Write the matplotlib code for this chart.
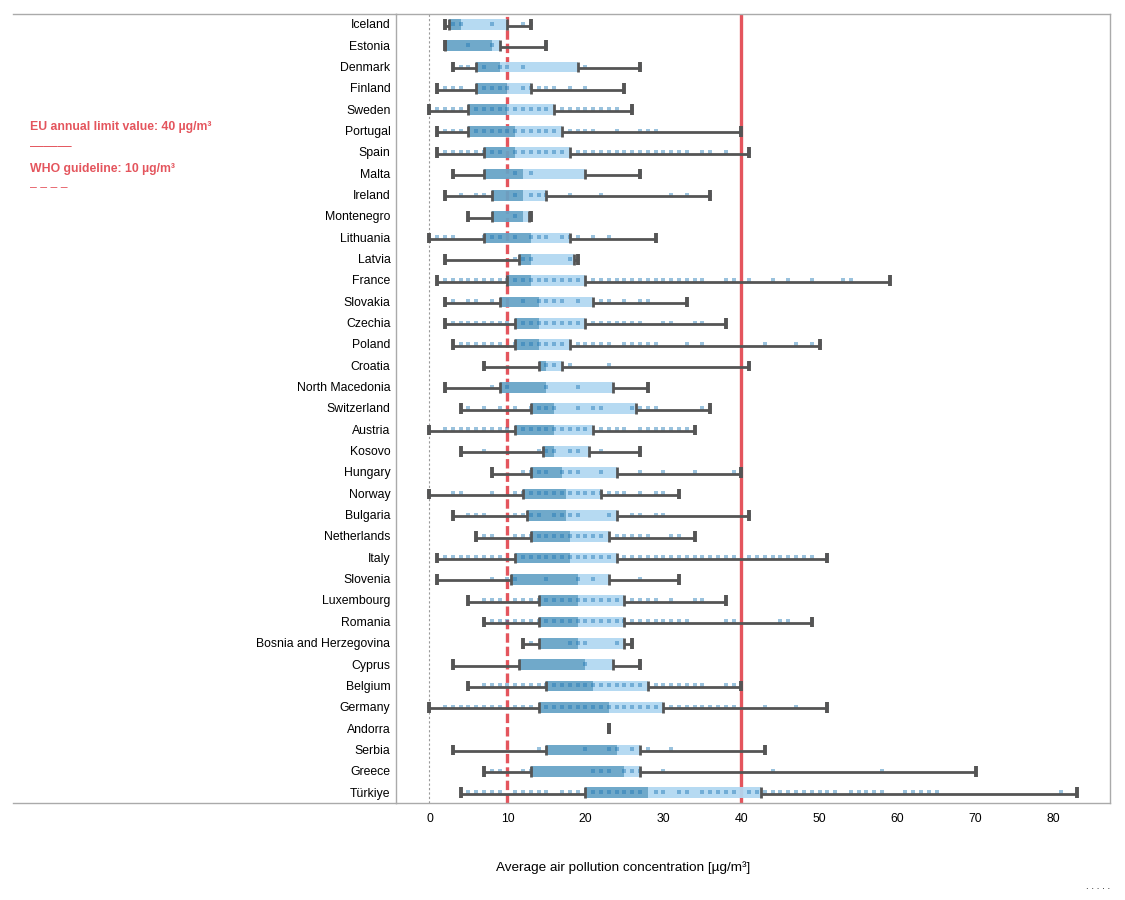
import matplotlib
matplotlib.use('Agg')
import matplotlib.pyplot as plt
from matplotlib.lines import Line2D
from matplotlib.transforms import ScaledTranslation

plt.rcParams['font.family'] = ['Liberation Sans', 'DejaVu Sans']

countries = ['Iceland', 'Estonia', 'Denmark', 'Finland', 'Sweden', 'Portugal', 'Spain', 'Malta', 'Ireland',
             'Montenegro', 'Lithuania', 'Latvia', 'France', 'Slovakia', 'Czechia', 'Poland', 'Croatia',
             'North Macedonia', 'Switzerland', 'Austria', 'Kosovo', 'Hungary', 'Norway', 'Bulgaria', 'Netherlands',
             'Italy', 'Slovenia', 'Luxembourg', 'Romania', 'Bosnia and Herzegovina', 'Cyprus', 'Belgium', 'Germany',
             'Andorra', 'Serbia', 'Greece', 'Türkiye']
low = [2, 2, 3, 1, 0, 1, 1, 3, 2, 5, 0, 2, 1, 2, 2, 3, 7, 2, 4, 0, 4, 8, 0, 3, 6, 1, 1, 5, 7, 12, 3, 5, 0, 23, 3, 7, 4]
q1 = [2.5, 2, 6, 6, 5, 5, 7, 7, 8, 8, 7, 11.5, 10, 9, 11, 11, 14, 9, 13, 11, 14.5, 13, 12, 12.5, 13, 11, 10.5, 14, 14,
      14, 11.5, 15, 14, 23, 15, 13, 20]
median = [4, 8, 9, 10, 10, 11, 11, 12, 12, 12, 13, 13, 13, 14, 14, 14, 15, 15, 16, 16, 16, 17, 17.5, 17.5, 18, 18, 19,
          19, 19, 19, 20, 21, 23, 23, 24, 25, 28]
q3 = [10, 9, 19, 13, 16, 17, 18, 20, 15, 12.8, 18, 18.5, 20, 21, 20, 18, 17, 23.5, 26.5, 21, 20.5, 24, 22, 24, 23, 24,
      23, 25, 25, 25, 23.5, 28, 30, 23, 27, 27, 42.5]
high = [13, 15, 27, 25, 26, 40, 41, 27, 36, 13, 29, 19, 59, 33, 38, 50, 41, 28, 36, 34, 27, 40, 32, 41, 34, 51, 32, 38,
        49, 26, 27, 40, 51, 23, 43, 70, 83]

stations = {
    'Iceland': [3, 4, 8, 12, 13],
    'Estonia': [5, 8, 15],
    'Denmark': [4, 5, 7, 9, 10, 12, 20, 27],
    'Finland': [2, 3, 4, 7, 8, 9, 10, 12, 13, 14, 15, 16, 18, 20],
    'Sweden': [0, 1, 2, 3, 4, 6, 7, 8, 9, 10, 11, 12, 13, 14, 15, 17, 18, 19, 20, 21, 22, 23, 24, 26],
    'Portugal': [2, 3, 4, 6, 7, 8, 9, 10, 11, 12, 13, 14, 15, 16, 18, 19, 20, 21, 24, 27, 28, 29],
    'Spain': [2, 3, 4, 5, 6, 7, 8, 9, 11, 12, 13, 14, 15, 16, 17, 19, 20, 21, 22, 23, 24, 25, 26, 27, 28, 29, 30, 31,
              32, 33, 35, 36, 38, 41],
    'Malta': [11, 13, 27],
    'Ireland': [4, 6, 7, 11, 13, 14, 15, 18, 22, 31, 33, 36],
    'Montenegro': [11, 13],
    'Lithuania': [0, 1, 2, 3, 7, 8, 9, 11, 13, 14, 15, 17, 18, 19, 21, 23],
    'Latvia': [11, 12, 13, 18, 19],
    'France': [2, 3, 4, 5, 6, 7, 8, 9, 10, 11, 12, 13, 14, 15, 16, 17, 18, 19, 21, 22, 23, 24, 25, 26, 27, 28, 29, 30,
               31, 32, 33, 34, 35, 38, 39, 41, 44, 46, 49, 53, 54],
    'Slovakia': [3, 5, 6, 8, 12, 14, 15, 16, 17, 19, 22, 23, 25, 27, 28],
    'Czechia': [3, 4, 5, 6, 7, 8, 9, 10, 12, 13, 14, 15, 16, 17, 18, 19, 21, 22, 23, 24, 25, 26, 27, 30, 31, 34, 35],
    'Poland': [4, 5, 6, 7, 8, 9, 11, 12, 13, 14, 15, 16, 17, 19, 20, 21, 22, 23, 25, 26, 27, 28, 29, 33, 35, 43, 47,
               49, 50],
    'Croatia': [15, 16, 18, 23, 41],
    'North Macedonia': [8, 10, 15, 19],
    'Switzerland': [5, 7, 9, 11, 13, 14, 15, 16, 19, 21, 22, 26, 27, 28, 29, 35, 36],
    'Austria': [0, 2, 3, 4, 5, 6, 7, 8, 9, 10, 12, 13, 14, 15, 16, 17, 18, 19, 20, 22, 23, 24, 25, 27, 28, 29, 30, 31,
                32, 33],
    'Kosovo': [7, 14, 15, 16, 18, 19, 22, 27],
    'Hungary': [12, 13, 14, 15, 17, 18, 19, 22, 27, 30, 34, 39],
    'Norway': [0, 3, 4, 8, 11, 12, 13, 14, 15, 16, 17, 18, 19, 20, 21, 22, 23, 24, 25, 27, 29, 30],
    'Bulgaria': [5, 6, 7, 11, 12, 13, 14, 16, 17, 18, 19, 23, 26, 27, 29, 30, 41],
    'Netherlands': [7, 8, 11, 12, 13, 14, 15, 16, 17, 18, 19, 20, 21, 22, 24, 25, 26, 27, 28, 31, 32],
    'Italy': [2, 3, 4, 5, 6, 7, 8, 9, 12, 13, 14, 15, 16, 17, 18, 19, 20, 21, 22, 23, 25, 26, 27, 28, 29, 30, 31, 32,
              33, 34, 35, 36, 37, 38, 39, 41, 42, 43, 44, 45, 46, 47, 48, 49, 51],
    'Slovenia': [8, 10, 11, 15, 19, 21, 27],
    'Luxembourg': [7, 8, 9, 11, 12, 13, 14, 15, 16, 17, 18, 19, 20, 21, 22, 23, 24, 26, 27, 28, 29, 31, 34, 35],
    'Romania': [7, 8, 9, 10, 11, 12, 13, 14, 15, 16, 17, 18, 19, 20, 21, 22, 23, 24, 25, 26, 27, 28, 29, 30, 31, 32,
                33, 38, 39, 45, 46, 49],
    'Bosnia and Herzegovina': [13, 18, 19, 20, 24, 26],
    'Cyprus': [20, 27],
    'Belgium': [7, 8, 9, 10, 11, 12, 13, 14, 15, 16, 17, 18, 19, 20, 21, 22, 23, 24, 25, 26, 27, 29, 30, 31, 32, 33,
                34, 35, 38, 39],
    'Germany': [0, 2, 3, 4, 5, 6, 7, 8, 9, 11, 12, 13, 15, 16, 17, 18, 19, 20, 21, 22, 23, 24, 25, 26, 27, 28, 29, 31,
                32, 33, 34, 35, 36, 37, 38, 39, 43, 47, 51],
    'Andorra': [],
    'Serbia': [14, 20, 23, 24, 26, 28, 31],
    'Greece': [8, 9, 12, 13, 21, 22, 23, 25, 26, 27, 30, 44, 58],
    'Türkiye': [5, 6, 7, 8, 9, 11, 12, 13, 14, 15, 17, 18, 19, 21, 22, 23, 24, 25, 26, 27, 29, 30, 32, 33, 35, 36, 37,
                38, 39, 41, 42, 43, 44, 45, 46, 47, 48, 49, 50, 51, 52, 54, 55, 56, 57, 58, 61, 62, 63, 64, 65, 81],
}

xticks = [0, 10, 20, 30, 40, 50, 60, 70, 80]
eu_limit = 40
who_limit = 10

RED = '#e4555d'
GREY = '#555555'
DARK = '#65a3c6'
LIGHT = '#b1d8f2'
BORDER = '#aaaaaa'

fig = plt.figure(figsize=(11.25, 9), dpi=100)
ax = fig.add_axes([396 / 1125, 97 / 900, 714 / 1125, 789 / 900])

ax.axvline(0, color='#999999', lw=0.8, ls=(0, (2, 2)), zorder=1)
ax.axvline(eu_limit, color=RED, lw=2.4, zorder=2)
ax.axvline(who_limit, color=RED, lw=2.4, ls=(0, (2.82, 1.2)), zorder=2)

for i, name in enumerate(countries):
    # boxes are slightly see through, the red lines show under them
    ax.barh(i, median[i] - q1[i], left=q1[i], height=0.5, color=DARK, alpha=0.93, zorder=3)
    ax.barh(i, q3[i] - median[i], left=median[i], height=0.5, color=LIGHT, alpha=0.93, zorder=3)

    xs = stations[name]
    ax.plot(xs, [i - 0.03] * len(xs), ls='none', marker='s', ms=2.4, mew=0, color='#1f78b4', alpha=0.45, zorder=4)

    ax.plot([low[i], q1[i]], [i + 0.05, i + 0.05], color=GREY, lw=2.0, solid_capstyle='butt', zorder=5)
    ax.plot([q3[i], high[i]], [i + 0.05, i + 0.05], color=GREY, lw=2.0, solid_capstyle='butt', zorder=5)
    for v, w in [(low[i], 2.8), (q1[i], 2.0), (q3[i], 2.0), (high[i], 2.8)]:
        if name == 'Andorra' and w == 2.0:
            continue
        ax.plot([v, v], [i - 0.25, i + 0.25], color=GREY, lw=w, solid_capstyle='butt', zorder=5)

ax.set_xlim(-4.29, 87.24)
ax.set_ylim(36.48, -0.49)
ax.set_yticks(range(len(countries)))
ax.set_yticklabels(countries, fontsize=8.8, color='black', va='center')
ax.set_xticks(xticks)
ax.set_xticklabels([str(t) for t in xticks], fontsize=8.8, color='black')
ax.tick_params(axis='both', length=0)
ax.tick_params(axis='y', pad=4)
ax.tick_params(axis='x', pad=7)
# nudge the country names down a touch
for lbl in ax.get_yticklabels():
    lbl.set_transform(lbl.get_transform() + ScaledTranslation(0, -0.008, fig.dpi_scale_trans))
for spine in ax.spines.values():
    spine.set_color(BORDER)
    spine.set_linewidth(1)

# frame carries on to the left of the labels
fig.add_artist(Line2D([13 / 1125, 396 / 1125], [886.5 / 900, 886.5 / 900], color=BORDER, lw=1))
fig.add_artist(Line2D([13 / 1125, 396 / 1125], [97 / 900, 97 / 900], color=BORDER, lw=1))

fig.text(623 / 1125, 32.5 / 900, 'Average air pollution concentration [µg/m³]', fontsize=9.7,
         ha='center', va='center', color='black')

fig.text(30 / 1125, 773 / 900, 'EU annual limit value: 40 µg/m³', fontsize=8.8, fontweight='bold',
         color=RED, va='center')
fig.text(30 / 1125, 754 / 900, '———', fontsize=10, color=RED, va='center')
fig.text(30 / 1125, 731 / 900, 'WHO guideline: 10 µg/m³', fontsize=8.8, fontweight='bold',
         color=RED, va='center')
fig.text(30 / 1125, 712 / 900, '– – – –', fontsize=8.8, color=RED, va='center')
fig.text(1110 / 1125, 14 / 900, '. . . . .', fontsize=7, color='black', ha='right', va='center')

fig.savefig('out.png', dpi=100)
